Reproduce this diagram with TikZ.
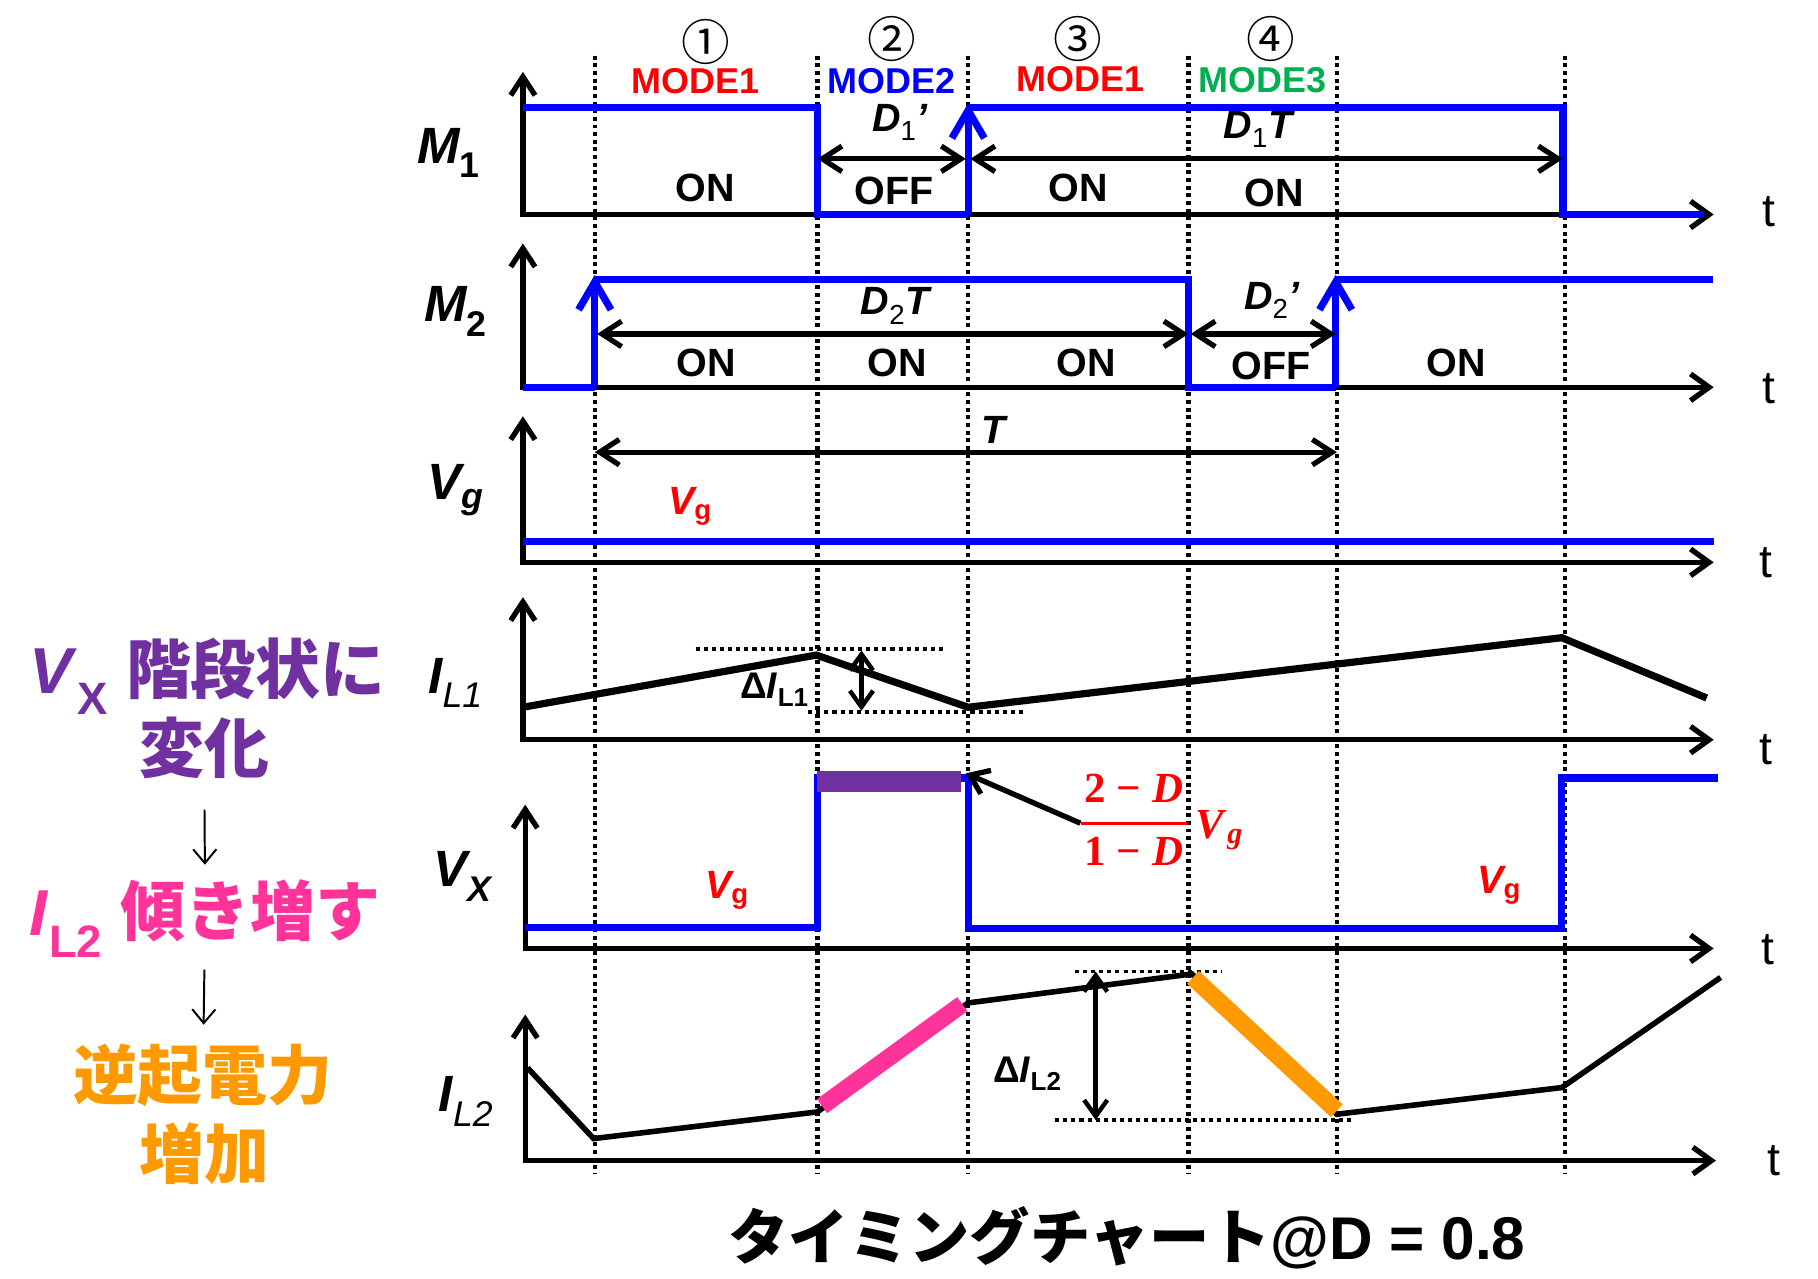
\documentclass[tikz,border=0pt]{standalone}
\usepackage[no-math]{fontspec}
\usepackage{amsmath,amssymb}
\usepackage{xcolor}
\usepackage{tikz}
\usetikzlibrary{arrows.meta,positioning}
\setmainfont{Liberation Sans}
\newfontfamily\jpfont{Noto Sans CJK JP}
\newfontfamily\serifbf{Liberation Serif}
\definecolor{waveblue}{RGB}{0,0,255}
\definecolor{markred}{RGB}{255,0,0}
\definecolor{modegreen}{RGB}{0,176,80}
\definecolor{stepviolet}{RGB}{112,48,160}
\definecolor{slopepink}{RGB}{255,51,153}
\definecolor{emforange}{RGB}{255,153,0}
\newcommand{\fsz}[1]{\fontsize{#1}{#1}\selectfont}
\newcommand{\subtx}[1]{$_{\text{#1}}$}
\tikzset{
  chartaxis/.style={
    line width=4.6pt,
    line join=miter,
    {Straight Barb[length=16pt,width=21pt]}-{Straight Barb[length=16pt,width=23pt]}
  },
  guide/.style={line width=3.6pt, dash pattern=on 3.4pt off 3.2pt},
  levelline/.style={line width=3.2pt, dash pattern=on 3.5pt off 3.5pt},
  wave/.style={line width=6.2pt, draw=waveblue, line join=miter},
  riseedge/.style={line width=6.2pt, draw=waveblue, -{Straight Barb[length=24pt,width=28pt]}},
  dimspan/.style={line width=4.5pt, {Straight Barb[length=17pt,width=22pt]}-{Straight Barb[length=17pt,width=22pt]}},
  ripple/.style={line width=3.8pt, {Straight Barb[length=14pt,width=20pt]}-{Straight Barb[length=14pt,width=20pt]}},
  pointer/.style={line width=4.6pt, -{Straight Barb[length=15pt,width=22pt]}},
  notearrow/.style={line width=1.7pt, -{Straight Barb[length=12pt,width=20pt]}},
  axlabel/.style={font=\fsz{44}\bfseries\itshape, inner sep=0pt},
  tlabel/.style={font=\fsz{40}, inner sep=0pt},
  modetxt/.style={font=\fsz{31}\bfseries, inner sep=0pt},
  numtxt/.style={font=\fsz{42}\jpfont, inner sep=0pt},
  statetxt/.style={font=\fsz{34}\bfseries, inner sep=0pt},
  dimtxt/.style={font=\fsz{34}\bfseries\itshape, inner sep=0pt},
  vgtxt/.style={font=\fsz{34}\bfseries, text=markred, inner sep=0pt},
  deltatxt/.style={font=\fsz{32}\bfseries, inner sep=0pt},
  fracbar/.style={rectangle, fill=markred, minimum width=92pt, minimum height=2.6pt, inner sep=0pt},
  fractxt/.style={font=\fsz{37}\serifbf\bfseries, text=markred, inner sep=0pt},
  notetxt/.style={font=\fsz{56}\bfseries, inner sep=0pt, text height=49pt, text depth=7pt}
}
\begin{document}
\begin{tikzpicture}[x=1pt,y=-1pt]
\useasboundingbox (0,0) rectangle (1568,1103);
\draw[guide] (513,48) -- (513,1012);
\draw[guide] (705,48) -- (705,1012);
\draw[guide] (835,48) -- (835,1012);
\draw[guide] (1025,48) -- (1025,1012);
\draw[guide] (1153,48) -- (1153,1012);
\draw[guide] (1350,48) -- (1350,1012);

\draw[chartaxis] (451,62) -- (451,185) -- (1478,185);
\draw[chartaxis] (451,210) -- (451,334) -- (1478,334);
\draw[chartaxis] (451,359) -- (451,485) -- (1478,485);
\draw[chartaxis] (451,515) -- (451,638) -- (1478,638);
\draw[chartaxis] (453,694) -- (453,818) -- (1478,818);
\draw[chartaxis] (453,875) -- (453,1001) -- (1480,1001);

\node[tlabel] (tm1) at (1526,183) {t};
\node[tlabel] (tm2) at (1526,335) {t};
\node[tlabel] (tvg) at (1523,485) {t};
\node[tlabel] (til1) at (1523,647) {t};
\node[tlabel] (tvx) at (1525,819) {t};
\node[tlabel] (til2) at (1530,1001) {t};

\node[axlabel] (lm1) at (387,132) {M\subtx{\upshape 1}};
\node[axlabel] (lm2) at (393,269) {M\subtx{\upshape 2}};
\node[axlabel] (lvg) at (393,423) {V\subtx{g}};
\node[axlabel] (lil1) at (393,589) {I\subtx{\mdseries L1}};
\node[axlabel] (lvx) at (399,756) {V\subtx{X}};
\node[axlabel] (lil2) at (402,950) {I\subtx{\mdseries L2}};

\node[numtxt] (numA) at (609,36) {①};
\node[numtxt] (numB) at (769,34) {②};
\node[numtxt] (numC) at (930,34) {③};
\node[numtxt] (numD) at (1096,34) {④};
\node[modetxt, text=markred] (modeA) at (600,70) {MODE1};
\node[modetxt, text=waveblue] (modeB) at (769,70) {MODE2};
\node[modetxt, text=markred] (modeC) at (932,68) {MODE1};
\node[modetxt, text=modegreen] (modeD) at (1089,69) {MODE3};

\draw[wave] (451,93) -- (705,93) -- (705,185) -- (835,185);
\draw[riseedge] (835,185) -- (835,89);
\draw[wave] (835,93) -- (1348,93) -- (1348,185) -- (1470,185);
\draw[dimspan] (705,137) -- (833,137);
\draw[dimspan] (837,137) -- (1348,137);
\node[dimtxt] (d1off) at (776,106) {D\subtx{\mdseries\upshape 1}’};
\node[dimtxt] (d1on) at (1085,112) {D\subtx{\mdseries\upshape 1}T};
\node[statetxt] (m1on1) at (608,162) {ON};
\node[statetxt] (m1off) at (771,165) {OFF};
\node[statetxt] (m1on2) at (930,162) {ON};
\node[statetxt] (m1on3) at (1099,166) {ON};

\draw[wave] (451,334) -- (513,334);
\draw[riseedge] (513,334) -- (513,237);
\draw[wave] (513,241) -- (1025,241) -- (1025,334) -- (1152,334);
\draw[riseedge] (1152,334) -- (1152,237);
\draw[wave] (1152,241) -- (1477,241);
\draw[dimspan] (515,288) -- (1025,288);
\draw[dimspan] (1027,288) -- (1152,288);
\node[dimtxt] (d2on) at (772,264) {D\subtx{\mdseries\upshape 2}T};
\node[dimtxt] (d2off) at (1097,259) {D\subtx{\mdseries\upshape 2}’};
\node[statetxt] (m2on1) at (609,313) {ON};
\node[statetxt] (m2on2) at (774,313) {ON};
\node[statetxt] (m2on3) at (937,313) {ON};
\node[statetxt] (m2off) at (1096,316) {OFF};
\node[statetxt] (m2on4) at (1256,313) {ON};

\draw[dimspan] (513,390) -- (1153,390);
\node[dimtxt] (tper) at (857,371) {T};
\draw[wave] (451,467) -- (1478,467);
\node[vgtxt] (vgin) at (595,437) {\itshape V\subtx{\upshape g}};

\draw[levelline] (600,560) -- (816,560);
\draw[levelline] (697,614) -- (886,614);
\draw[line width=6.2pt, line join=miter] (451,610) -- (704,565) -- (835,610) -- (1347,550) -- (1472,602);
\draw[ripple] (743,561) -- (743,613);
\node[deltatxt] (dil1) at (668,595) {Δ\textit{I}\subtx{L1}};

\draw[wave] (453,800) -- (705,800) -- (705,671) -- (835,671) -- (835,801) -- (1347,801) -- (1347,671) -- (1482,671);
\fill[stepviolet] (705,665) rectangle (829,683);
\coordinate (stepend) at (833,667);
\node[vgtxt] (vglow) at (627,768) {\itshape V\subtx{\upshape g}};
\node[vgtxt] (vgrest) at (1293,764) {\itshape V\subtx{\upshape g}};
\node[fracbar] (frac) at (978,710) {};
\node[fractxt, above=16pt of frac] (fracnum) {2 − \textit{D}};
\node[fractxt, below=10pt of frac] (fracden) {1 − \textit{D}};
\node[fractxt, right=7pt of frac, yshift=-6pt] (fracvg) {\textit{V}\subtx{\itshape g}};
\draw[pointer] (frac.west) -- (stepend);

\draw[levelline] (927,838) -- (1054,838);
\draw[levelline] (910,966) -- (1168,966);
\draw[line width=4.8pt, line join=miter] (455,921) -- (512,982) -- (705,959) -- (835,865) -- (1028,840) -- (1153,961) -- (1347,938) -- (1484,843);
\draw[line width=15pt, slopepink] (709,954) -- (830,866);
\draw[line width=15pt, emforange] (1029,843) -- (1153,958);
\draw[ripple] (945,838) -- (945,966);
\node[deltatxt] (dil2) at (886,926) {Δ\textit{I}\subtx{L2}};

\node[notetxt, text=stepviolet] (vxnote) at (179,577) {\textit{V}\subtx{X} {\jpfont 階段状に}};
\node[notetxt, text=stepviolet] (vxnote2) at (176,645) {\jpfont 変化};
\node[notetxt, text=slopepink] (slope) at (177,786) {\textit{I}\subtx{L2} {\jpfont 傾き増す}};
\node[notetxt, text=emforange] (emf) at (175,927) {\jpfont 逆起電力};
\node[notetxt, text=emforange] (emf2) at (176,995) {\jpfont 増加};
\draw[notearrow, shorten <=25pt, shorten >=12pt] (vxnote2) -- (slope);
\draw[notearrow, shorten <=22pt, shorten >=15pt] (slope) -- (emf);

\node[font=\fsz{52}\bfseries, inner sep=0pt] (title) at (972,1068) {{\jpfont タイミングチャート}@D = 0.8};
\end{tikzpicture}
\end{document}
